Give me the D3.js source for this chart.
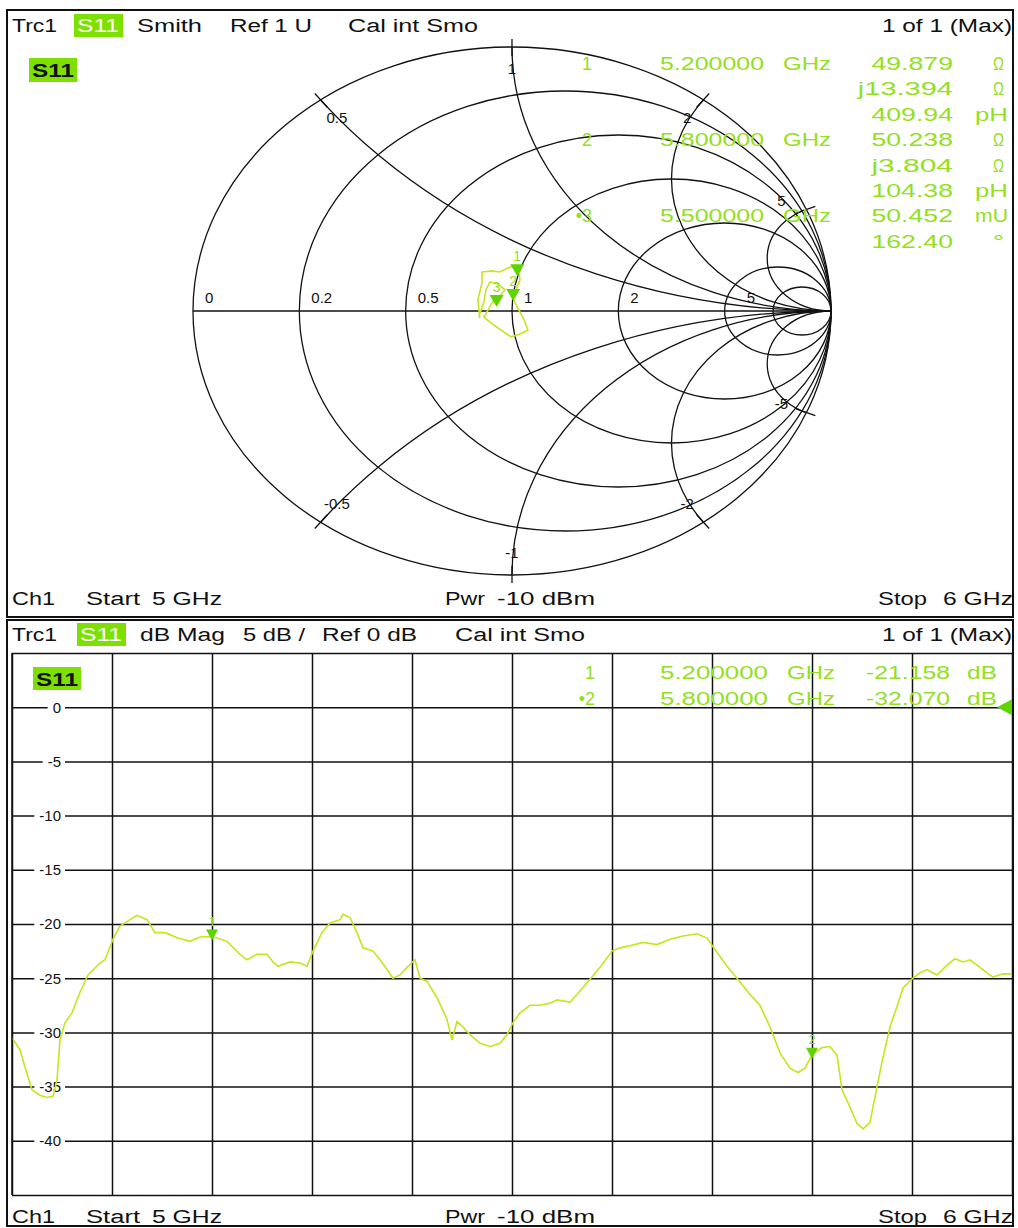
<!DOCTYPE html>
<html>
<head>
<meta charset="utf-8">
<script src="https://cdn.jsdelivr.net/npm/d3@7"></script>
<style>
  body { margin: 0; background: #fff; }
  text { font-family: "Liberation Sans", Arial, sans-serif; }
</style>
</head>
<body>
<script>
// ---- data ----
const freqGHz = [5.000,5.008,5.013,5.020,5.028,5.035,5.041,5.045,5.048,5.053,5.060,5.068,5.076,5.088,5.093,
  5.101,5.108,5.118,5.125,5.135,5.143,5.153,5.166,5.178,5.188,5.200,5.215,5.228,5.235,5.245,5.255,5.261,5.266,
  5.278,5.288,5.295,5.301,5.310,5.318,5.328,5.331,5.338,5.345,5.351,5.361,5.368,5.375,5.381,5.388,5.395,5.403,
  5.408,5.415,5.425,5.435,5.440,5.445,5.451,5.458,5.468,5.478,5.488,5.495,5.501,5.508,5.518,5.528,5.538,5.545,
  5.558,5.565,5.578,5.588,5.600,5.608,5.618,5.631,5.645,5.658,5.671,5.685,5.695,5.701,5.715,5.725,5.738,5.748,
  5.758,5.768,5.778,5.786,5.793,5.800,5.810,5.818,5.825,5.830,5.838,5.845,5.851,5.858,5.865,5.871,5.878,5.885,
  5.891,5.901,5.908,5.915,5.925,5.935,5.943,5.951,5.958,5.965,5.975,5.981,5.991,6.000];
const s11dB = [-30.5,-31.6,-33.2,-35.3,-35.8,-36.0,-35.9,-34.4,-30.7,-29.1,-28.2,-26.3,-24.7,-23.6,-23.3,
  -21.4,-20.2,-19.6,-19.2,-19.6,-20.8,-20.8,-21.3,-21.6,-21.2,-21.16,-21.6,-22.8,-23.3,-22.8,-22.8,-23.5,-23.9,
  -23.5,-23.6,-23.9,-22.5,-20.8,-19.9,-19.6,-19.1,-19.4,-20.8,-22.2,-22.5,-23.3,-24.2,-25.0,-24.7,-24.0,-23.3,
  -25.0,-25.3,-26.8,-28.8,-30.7,-29.0,-29.5,-30.2,-31.0,-31.3,-31.0,-30.2,-29.1,-28.2,-27.5,-27.5,-27.3,-27.0,
  -27.2,-26.5,-25.1,-24.0,-22.5,-22.2,-22.0,-21.7,-21.9,-21.4,-21.1,-20.9,-21.3,-22.1,-23.9,-25.0,-26.5,-27.5,
  -29.5,-31.9,-33.3,-33.7,-33.3,-32.07,-31.4,-31.3,-32.1,-35.3,-36.9,-38.4,-38.9,-38.3,-35.0,-32.3,-29.5,-27.6,
  -25.9,-25.0,-24.5,-24.2,-24.7,-23.8,-23.2,-23.5,-23.3,-23.8,-24.5,-24.9,-24.6,-24.6];

// reflection coefficient trace (real, imag) on the Smith chart
const gammaRe = [-0.101,-0.107,-0.094,-0.094,-0.063,-0.038,-0.013,0.006,0.022,0.025,0.013,0.000,0.009,0.025,
  0.038,0.050,0.025,-0.003,-0.025,-0.044,-0.069,-0.088,-0.075,-0.057,-0.038,-0.022,-0.044,-0.069,-0.082,-0.088,-0.104];
const gammaIm = [-0.027,0.042,0.106,0.148,0.152,0.148,0.163,0.170,0.148,0.117,0.080,0.057,0.034,-0.004,
  -0.034,-0.072,-0.087,-0.098,-0.080,-0.064,-0.042,-0.023,0.004,0.042,0.057,0.080,0.102,0.110,0.080,0.034,-0.019];

const resistanceCircles = [0.2, 0.5, 1, 2, 5, 10];
const reactanceArcs = [0.5, 1, 2, 5];
const resistanceLabels = [0, 0.2, 0.5, 1, 2, 5];

// Smith markers: label, gamma re, gamma im
const smithMarkerNames = ["1", "2", "3"];
const smithMarkerRe = [0.0165, 0.0038, -0.0481];
const smithMarkerIm = [0.132, 0.0378, 0.0153];
const smithReadout = [
  ["1", "5.200000", "GHz", "49.879", "Ω"],
  ["", "", "", "j13.394", "Ω"],
  ["", "", "", "409.94", "pH"],
  ["2", "5.800000", "GHz", "50.238", "Ω"],
  ["", "", "", "j3.804", "Ω"],
  ["", "", "", "104.38", "pH"],
  ["•3", "5.500000", "GHz", "50.452", "mU"],
  ["", "", "", "162.40", "°"]
];

const magMarkerNames = ["1", "2"];
const magMarkerFreq = [5.2, 5.8];
const magMarkerDb = [-21.158, -32.070];
const magReadout = [
  ["1", "5.200000", "GHz", "-21.158", "dB"],
  ["•2", "5.800000", "GHz", "-32.070", "dB"]
];

const dbTicks = [0, -5, -10, -15, -20, -25, -30, -35, -40];
const freqGrid = d3.range(0, 11).map(i => 5 + i / 10);
const dbGrid = d3.range(-45, 6, 5);

// ---- drawing ----
const width = 1018, height = 1228;
const TRACE = "#c9e41a", MARK = "#5ed400", READ = "#93e021", BOX = "#7ee000";

const svg = d3.select("body").append("svg")
  .attr("width", width).attr("height", height)
  .attr("viewBox", [0, 0, width, height]);

function txt(g, s, x, y, opt) {
  opt = opt || {};
  const t = g.append("text").attr("x", x).attr("y", y)
    .attr("font-size", opt.size || 18)
    .attr("fill", opt.fill || "#111")
    .attr("text-anchor", opt.anchor || "start")
    .text(s);
  if (opt.len) t.attr("textLength", opt.len).attr("lengthAdjust", "spacingAndGlyphs");
  if (opt.weight) t.attr("font-weight", opt.weight);
  return t;
}

function header(y0, items, boxX) {
  svg.append("rect").attr("x", boxX).attr("y", y0 - 18).attr("width", 49).attr("height", 23).attr("fill", BOX);
  txt(svg, "S11", boxX + 3, y0, { fill: "#fff", len: 42 });
  items.forEach(d => txt(svg, d[0], d[1], y0, { len: d[2] }));
}

function footer(y0) {
  txt(svg, "Ch1", 12, y0, { len: 43 });
  txt(svg, "Start", 86, y0, { len: 54 });
  txt(svg, "5 GHz", 152, y0, { len: 70 });
  txt(svg, "Pwr", 445, y0, { len: 40 });
  txt(svg, "-10 dBm", 497, y0, { len: 98 });
  txt(svg, "Stop", 878, y0, { len: 49 });
  txt(svg, "6 GHz", 943, y0, { len: 70 });
}

// ===== top panel: Smith chart =====
const topG = svg.append("g");
const xS = d3.scaleLinear().domain([-1, 1]).range([193, 831]);
const yS = d3.scaleLinear().domain([-1, 1]).range([575, 47]);
const rxU = (xS(1) - xS(-1)) / 2, ryU = (yS(-1) - yS(1)) / 2;

svg.append("defs").append("clipPath").attr("id", "unit")
  .append("ellipse").attr("cx", xS(0)).attr("cy", yS(0)).attr("rx", rxU).attr("ry", ryU);

const grid = topG.append("g").attr("fill", "none").attr("stroke", "#111").attr("stroke-width", 1.3);
grid.append("ellipse").attr("cx", xS(0)).attr("cy", yS(0)).attr("rx", rxU).attr("ry", ryU);
grid.append("line").attr("x1", xS(-1)).attr("x2", xS(1)).attr("y1", yS(0)).attr("y2", yS(0));

grid.selectAll(".rc").data(resistanceCircles).join("ellipse")
  .attr("cx", r => xS(r / (r + 1))).attr("cy", yS(0))
  .attr("rx", r => rxU / (r + 1)).attr("ry", r => ryU / (r + 1));

const arcs = grid.append("g").attr("clip-path", "url(#unit)");
reactanceArcs.forEach(x => {
  [1, -1].forEach(s => {
    arcs.append("ellipse")
      .attr("cx", xS(1)).attr("cy", yS(s / x))
      .attr("rx", rxU / x).attr("ry", ryU / x);
  });
});

// small ticks where reactance arcs meet the rim, with their labels
reactanceArcs.forEach(x => {
  [1, -1].forEach(s => {
    const gr = (x * x - 1) / (x * x + 1), gi = s * 2 * x / (x * x + 1);
    grid.append("line")
      .attr("x1", xS(gr * 0.965)).attr("y1", yS(gi * 0.965))
      .attr("x2", xS(gr * 1.03)).attr("y2", yS(gi * 1.03));
    const lab = (s < 0 ? "-" : "") + x;
    // the +5 label sits just above the marker readout row
    const lift = (x === 5 && s > 0) ? -17 : 0;
    txt(topG, lab, xS(gr * 0.915), yS(gi * 0.915) + 5 + lift, { size: 15, anchor: "middle" });
  });
});

resistanceLabels.forEach(r => {
  const g = (r - 1) / (r + 1);
  txt(topG, String(r), xS(g) + (r === 5 ? 22 : 12), yS(0) - 8, { size: 15 });
});

// trace
const smithLine = d3.line().x(i => xS(gammaRe[i])).y(i => yS(gammaIm[i]));
topG.append("path").attr("d", smithLine(d3.range(gammaRe.length)))
  .attr("fill", "none").attr("stroke", TRACE).attr("stroke-width", 1.6);

smithMarkerNames.forEach((n, i) => {
  const px = xS(smithMarkerRe[i]), py = yS(smithMarkerIm[i]);
  topG.append("path").attr("d", `M${px},${py} l-7,-12 h14 Z`).attr("fill", MARK);
  txt(topG, n, px, py - 15, { size: 14, fill: READ, anchor: "middle" });
});

// readout
smithReadout.forEach((row, i) => {
  const y = 70 + i * 25.4;
  if (row[0]) txt(topG, row[0], 592, y, { fill: READ, anchor: "end" });
  if (row[1]) txt(topG, row[1], 660, y, { fill: READ, len: 104 });
  if (row[2]) txt(topG, row[2], 783, y, { fill: READ, len: 48 });
  txt(topG, row[3], 953, y, { fill: READ, anchor: "end", len: row[3].length * 13.6 });
  txt(topG, row[4], row[4].length > 1 ? 975 : 993, y, { fill: READ, len: row[4].length > 1 ? 33 : 11 });
});

header(32, [["Trc1", 12, 45], ["Smith", 137, 65], ["Ref 1 U", 230, 82], ["Cal int Smo", 348, 130], ["1 of 1 (Max)", 882, 130]], 74);
svg.append("rect").attr("x", 29).attr("y", 58).attr("width", 48).attr("height", 24).attr("fill", BOX);
txt(svg, "S11", 32, 77, { weight: "bold", len: 42 });
footer(605);
svg.append("rect").attr("x", 7).attr("y", 10).attr("width", 1006).attr("height", 607)
  .attr("fill", "none").attr("stroke", "#111").attr("stroke-width", 2);

// ===== bottom panel: dB magnitude =====
const botG = svg.append("g");
const xB = d3.scaleLinear().domain([5, 6]).range([12, 1012]);
const yB = d3.scaleLinear().domain([-45, 5]).range([1195, 653]);

botG.append("g").attr("transform", `translate(0,${yB(-45)})`)
  .call(d3.axisBottom(xB).tickValues(freqGrid).tickSize(-(yB(-45) - yB(5))).tickFormat(""))
  .call(g => g.select(".domain").remove())
  .selectAll("line").attr("stroke", "#111").attr("stroke-width", 1.5);
botG.append("g").attr("transform", `translate(${xB(5)},0)`)
  .call(d3.axisLeft(yB).tickValues(dbGrid).tickSize(-(xB(6) - xB(5))).tickFormat(""))
  .call(g => g.select(".domain").remove())
  .selectAll("line").attr("stroke", "#111").attr("stroke-width", 1.5);

const yLab = botG.append("g").attr("transform", "translate(61,0)")
  .call(d3.axisLeft(yB).tickValues(dbTicks).tickSize(0).tickPadding(0).tickFormat(d => String(d)));
yLab.select(".domain").remove();
yLab.selectAll("text").attr("font-size", 15).attr("fill", "#111")
  .attr("font-family", "Liberation Sans, Arial, sans-serif");
yLab.selectAll(".tick").each(function () {
  const t = d3.select(this).select("text");
  const w = t.node().getComputedTextLength();
  d3.select(this).insert("rect", "text").attr("x", -w - 5).attr("y", -8).attr("width", w + 9).attr("height", 16).attr("fill", "#fff");
});

// readout (drawn over the grid)
magReadout.forEach((row, i) => {
  const y = 679 + i * 26;
  txt(botG, row[0], 595, y, { fill: READ, anchor: "end" });
  txt(botG, row[1], 660, y, { fill: READ, len: 108 });
  txt(botG, row[2], 787, y, { fill: READ, len: 48 });
  txt(botG, row[3], 950, y, { fill: READ, anchor: "end", len: 84 });
  txt(botG, row[4], 967, y, { fill: READ, len: 30 });
});

const magLine = d3.line().x(i => xB(freqGHz[i])).y(i => yB(s11dB[i]));
botG.append("path").attr("d", magLine(d3.range(freqGHz.length)))
  .attr("fill", "none").attr("stroke", TRACE).attr("stroke-width", 1.6);

magMarkerNames.forEach((n, i) => {
  const px = xB(magMarkerFreq[i]), py = yB(magMarkerDb[i]);
  botG.append("path").attr("d", `M${px},${py + 4} l-6,-11 h12 Z`).attr("fill", MARK);
  txt(botG, n, px, py - 11, { size: 13, fill: READ, anchor: "middle" });
});
// reference level marker at 0 dB
botG.append("path").attr("d", `M${xB(6)},${yB(0) - 8} v16 l-15,-8 Z`).attr("fill", MARK);

svg.append("rect").attr("x", 33).attr("y", 667).attr("width", 48).attr("height", 23).attr("fill", BOX);
txt(svg, "S11", 36, 686, { weight: "bold", len: 42 });
header(641, [["Trc1", 12, 45], ["dB Mag", 140, 85], ["5 dB /", 243, 62], ["Ref 0 dB", 322, 95], ["Cal int Smo", 455, 130], ["1 of 1 (Max)", 882, 130]], 77);
footer(1223);
svg.append("line").attr("x1", 12).attr("x2", 12).attr("y1", 653).attr("y2", 1195).attr("stroke", "#111").attr("stroke-width", 1.5);
svg.append("rect").attr("x", 7).attr("y", 620).attr("width", 1006).attr("height", 606)
  .attr("fill", "none").attr("stroke", "#111").attr("stroke-width", 2);
</script>
</body>
</html>
